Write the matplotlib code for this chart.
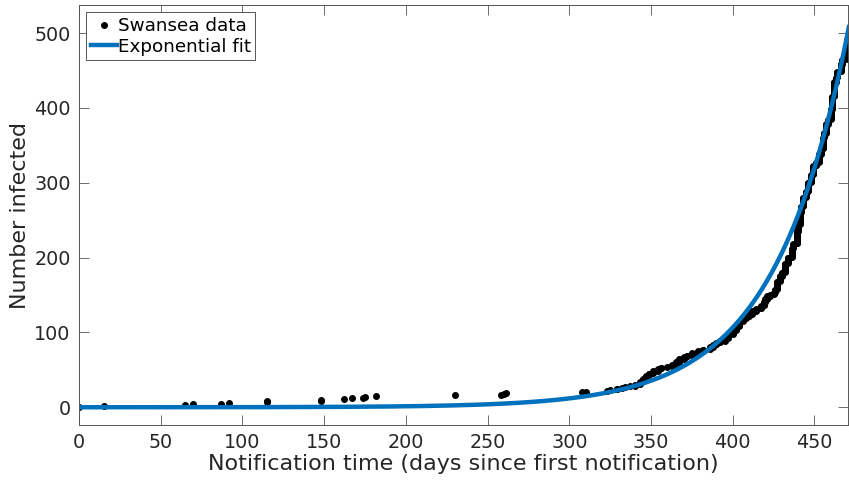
import numpy as np
import matplotlib
matplotlib.use('Agg')
import matplotlib.pyplot as plt

# notification day -> cumulative number infected
days = [0, 15, 65, 70, 87, 92, 115, 148, 162, 167, 174, 175, 182, 230, 258, 260, 261,
        308, 310, 323, 325, 329, 332, 334, 337, 340, 343, 345, 347, 349, 351, 354, 356,
        360, 363, 365, 367, 370, 372, 375, 379, 382, 386, 388, 390, 392, 395, 397, 400,
        402, 404, 406, 408, 410, 412, 414, 417, 419, 420, 421, 423, 425, 426, 427, 429,
        430, 432, 434, 436, 437, 439, 440, 441, 442, 443, 445, 446, 448, 449, 451, 453,
        454, 455, 456, 457, 458, 460, 461, 462, 463, 464, 466, 467, 469, 470, 471]
cumulative = [1, 2, 3, 4, 5, 6, 8, 10, 11, 12, 13, 14, 15, 16, 17, 18, 19,
              20, 21, 22, 23, 25, 26, 27, 28, 30, 34, 38, 42, 45, 48, 51, 53,
              54, 56, 60, 64, 67, 69, 72, 75, 77, 80, 83, 86, 88, 92, 97, 102,
              108, 114, 118, 121, 124, 128, 131, 135, 140, 144, 148, 150, 153, 157, 168, 175,
              180, 192, 200, 212, 218, 235, 244, 260, 268, 280, 288, 300, 310, 322, 327, 338,
              345, 360, 366, 378, 384, 398, 415, 434, 440, 448, 458, 464, 478, 490, 497]

# exponential fit y = a*exp(b*t)
fit_a = 0.0162
fit_b = 0.02198

# one dot per case
t_pts, n_pts = [], []
prev = 0
for d, c in zip(days, cumulative):
    for n in range(prev + 1, c + 1):
        t_pts.append(d)
        n_pts.append(n)
    prev = c

t_fit = np.linspace(0, 471, 500)
y_fit = fit_a * np.exp(fit_b * t_fit)

plt.rcParams['font.family'] = 'DejaVu Sans'
txt = '#262626'

fig = plt.figure(figsize=(8.49, 4.87), dpi=100)
ax = fig.add_axes([0.0931, 0.1273, 0.9059, 0.8624])
ax.plot(t_pts, n_pts, 'o', color='black', markersize=4, label='Swansea data')
ax.plot(t_fit, y_fit, '-', color='#0072BD', linewidth=3.2, label='Exponential fit')

ax.set_xlim(0, 470.6)
ax.set_ylim(-23.7, 537.4)
ax.set_xticks(np.arange(0, 451, 50))
ax.set_yticks(np.arange(0, 501, 100))
ax.tick_params(direction='in', top=True, right=True, length=7, width=0.6,
               color='#555555', labelsize=13.8, labelcolor=txt, pad=6)
for s in ax.spines.values():
    s.set_color('#555555')
    s.set_linewidth(0.7)

ax.set_xlabel('Notification time (days since first notification)', fontsize=16, color=txt, labelpad=1)
ax.set_ylabel('Number infected', fontsize=16, color=txt, labelpad=3)

leg = ax.legend(loc='upper left', fontsize=13.2, frameon=True, fancybox=False,
                edgecolor='#555555', framealpha=1, handlelength=1.4, handletextpad=0.05,
                borderpad=0.25, labelspacing=0.15, borderaxespad=0.4)
leg.get_frame().set_linewidth(0.7)
for t in leg.get_texts():
    t.set_color('black')

fig.savefig('out.png', dpi=100)
